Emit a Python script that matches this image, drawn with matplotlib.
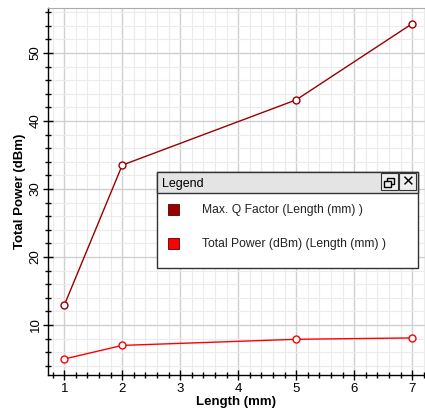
import matplotlib
matplotlib.use("Agg")
import matplotlib.pyplot as plt
from matplotlib.patches import Rectangle
from matplotlib.ticker import MultipleLocator

plt.rcParams['font.family'] = ['Liberation Sans', 'DejaVu Sans']

length_mm = [1, 2, 5, 7]
max_q = [12.9, 33.5, 43.1, 54.3]
total_power = [5.0, 7.0, 7.9, 8.1]
series_names = ["Max. Q Factor (Length (mm) )", "Total Power (dBm) (Length (mm) )"]
series_colors = ["#990000", "#ff0000"]
x_ticks = [1, 2, 3, 4, 5, 6, 7]
y_ticks = [10, 20, 30, 40, 50]

W, H = 425, 412
fig = plt.figure(figsize=(W / 100, H / 100), dpi=100)
ax_l, ax_b, ax_r, ax_t = 48, 375, 425, 8
ax = fig.add_axes([ax_l / W, 1 - ax_b / H, (ax_r - ax_l) / W, (ax_b - ax_t) / H])

for ys, c in zip([max_q, total_power], series_colors):
    ax.plot(length_mm, ys, color=c, lw=1.0, marker='o', ms=5, mfc='white',
            mec=c, mew=1.0, zorder=3)

ax.set_xlim(0.72, 7.22)
ax.set_ylim(2.65, 56.6)
ax.set_xticks(x_ticks)
ax.set_yticks(y_ticks)
ax.xaxis.set_minor_locator(MultipleLocator(0.2))
ax.yaxis.set_minor_locator(MultipleLocator(2))
ax.grid(which='minor', color='#ebebeb', lw=0.8, zorder=0)
ax.grid(which='major', color='#d0d0d0', lw=1.0, zorder=0)
ax.set_axisbelow(True)

ax.spines['right'].set_visible(False)
ax.spines['top'].set_linestyle((0, (2, 1)))
ax.spines['top'].set_color('#aaaaaa')
ax.spines['left'].set_color('black')
ax.spines['bottom'].set_color('black')
ax.spines['left'].set_linewidth(1.0)
ax.spines['bottom'].set_linewidth(1.0)

ax.tick_params(which='major', direction='inout', length=7, width=1, labelsize=9.5,
               colors='black')
ax.tick_params(which='minor', direction='inout', length=4, width=1)
ax.tick_params(axis='y', labelrotation=90, pad=1)
ax.tick_params(axis='x', pad=2)
for lbl in ax.get_yticklabels():
    lbl.set_va('center')

ax.set_xlabel("Length (mm)", fontsize=9.5, fontweight='bold', labelpad=1)
ax.set_ylabel("Total Power (dBm)", fontsize=9.5, fontweight='bold', labelpad=3)

# Legend window
def fx(px):
    return px / W

def fy(py):
    return 1 - py / H

lx0, lx1, ly0, ly1 = 157, 418, 172, 268
fig.patches.append(Rectangle((fx(lx0), fy(ly1)), fx(lx1 - lx0), (ly1 - ly0) / H,
                             transform=fig.transFigure, facecolor='white',
                             edgecolor='#333333', lw=1.0, zorder=10))
fig.patches.append(Rectangle((fx(lx0), fy(193)), fx(lx1 - lx0), (193 - ly0) / H,
                             transform=fig.transFigure, facecolor='#e4e4e4',
                             edgecolor='#333333', lw=1.0, zorder=11))
fig.text(fx(162), fy(184), "Legend", fontsize=9, va='center', ha='left', zorder=12)
# window buttons
for bx in [381, 399]:
    fig.patches.append(Rectangle((fx(bx), fy(190)), fx(17), 17 / H,
                                 transform=fig.transFigure, facecolor='#eeeeee',
                                 edgecolor='#333333', lw=0.8, zorder=12))
# restore icon drawn as two overlapping window outlines
fig.patches.append(Rectangle((fx(387), fy(184)), fx(7), 6 / H,
                             transform=fig.transFigure, facecolor='none',
                             edgecolor='black', lw=1.0, zorder=13))
fig.patches.append(Rectangle((fx(384), fy(187)), fx(7), 6 / H,
                             transform=fig.transFigure, facecolor='#eeeeee',
                             edgecolor='black', lw=1.0, zorder=14))
fig.text(fx(407.5), fy(182), "\u2715", fontsize=11, ha='center', va='center',
         family=['DejaVu Sans'], zorder=13)

for name, c, yy in zip(series_names, series_colors, [210, 244]):
    fig.patches.append(Rectangle((fx(168), fy(yy + 5)), fx(11), 11 / H,
                                 transform=fig.transFigure, facecolor=c,
                                 edgecolor='#550000', lw=0.6, zorder=12))
    fig.text(fx(202), fy(yy), name, fontsize=8.7, ha='left', va='center',
             color='#222222', zorder=12)

fig.savefig("out.png", dpi=100)
